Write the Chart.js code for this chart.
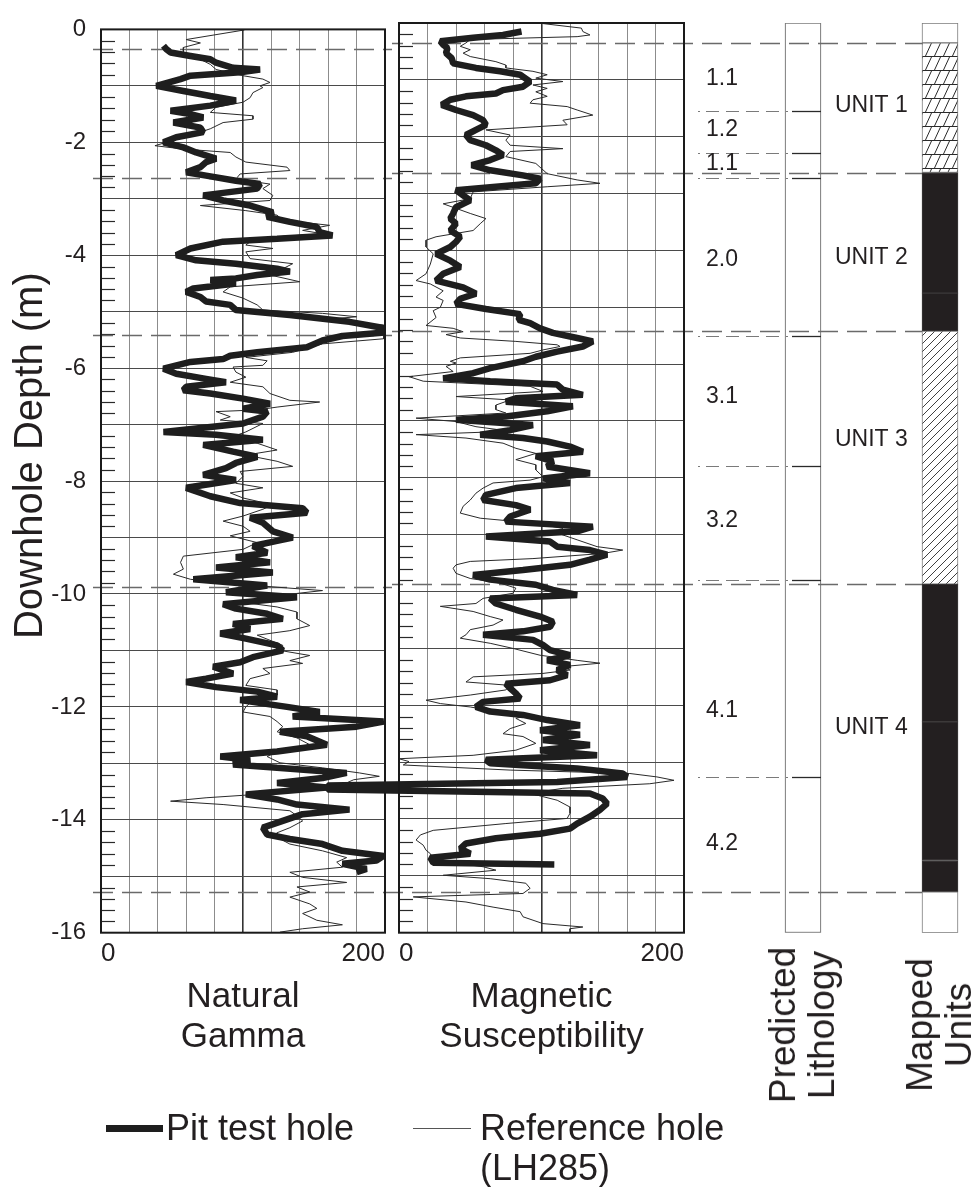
<!DOCTYPE html>
<html>
<head>
<meta charset="utf-8">
<script src="https://cdn.jsdelivr.net/npm/chart.js@4.4.0/dist/chart.umd.min.js"></script>
<style>
html, body { margin: 0; padding: 0; background: #fff; overflow: hidden; }
#wrap { position: relative; width: 973px; height: 1187px; font-family: "Liberation Sans", Arial, sans-serif; color: #231f20; }
#wrap canvas { position: absolute; top: 0; }
.txt { position: absolute; font-size: 36px; line-height: 40px; white-space: nowrap; }
.rot { position: absolute; font-size: 37px; line-height: 39px; white-space: nowrap; text-align: center;
       transform: translate(-50%, -50%) rotate(-90deg); }
.sw { position: absolute; }
</style>
</head>
<body>
<div id="wrap">
  <canvas id="cGamma" width="405" height="1187" style="left:0"></canvas>
  <canvas id="cMag" width="405" height="1187" style="left:300px"></canvas>
  <canvas id="cUnits" width="283" height="1187" style="left:690px"></canvas>

  <div class="rot" style="left:802px; top:1025px">Predicted<br>Lithology</div>
  <div class="rot" style="left:939px; top:1025px">Mapped<br>Units</div>

  <div class="sw" style="left:106px; top:1125px; width:57px; height:7px; background:#1e1e1e"></div>
  <div class="txt" style="left:166px; top:1108px">Pit test hole</div>
  <div class="sw" style="left:413px; top:1128px; width:58px; height:1px; background:#555"></div>
  <div class="txt" style="left:480px; top:1108px">Reference hole<br>(LH285)</div>
</div>

<script>
(function () {
'use strict';

// ---- data: [depth (m), value] ----
const gammaPit = [
  [-0.29,44],[-0.35,46],[-0.41,49],[-0.47,63],[-0.53,77],[-0.59,81],[-0.68,93],[-0.71,112],[-0.76,98],[-0.82,63],
  [-0.88,56],[-1.0,39],[-1.09,58],[-1.18,77],[-1.26,95],[-1.35,77],[-1.44,49],[-1.5,63],[-1.56,72],[-1.65,51],
  [-1.74,70],[-1.82,72],[-1.91,53],[-2.0,44],[-2.09,58],[-2.18,67],[-2.29,81],[-2.35,74],[-2.44,70],[-2.53,60],
  [-2.59,74],[-2.68,95],[-2.74,112],[-2.82,110],[-2.94,72],[-3.03,86],[-3.12,105],[-3.24,121],[-3.32,117],[-3.41,133],
  [-3.5,152],[-3.59,154],[-3.65,163],[-3.71,124],[-3.76,86],[-3.88,63],[-4.0,53],[-4.09,67],[-4.15,95],[-4.24,124],
  [-4.29,133],[-4.35,110],[-4.41,95],[-4.44,77],[-4.5,95],[-4.59,65],[-4.65,60],[-4.74,70],[-4.82,74],[-4.88,91],
  [-4.97,95],[-5.06,133],[-5.18,175],[-5.29,199],[-5.37,200],[-5.43,170],[-5.51,156],[-5.63,145],[-5.72,110],[-5.78,91],
  [-5.84,86],[-5.89,63],[-6.01,44],[-6.1,53],[-6.19,74],[-6.25,88],[-6.33,60],[-6.39,58],[-6.45,77],[-6.54,100],
  [-6.63,119],[-6.72,100],[-6.77,117],[-6.86,114],[-6.98,100],[-7.13,44],[-7.18,81],[-7.27,114],[-7.36,72],[-7.48,93],
  [-7.57,110],[-7.68,95],[-7.77,88],[-7.89,72],[-7.98,95],[-8.12,60],[-8.27,77],[-8.39,98],[-8.48,142],[-8.56,145],
  [-8.65,105],[-8.74,114],[-8.89,121],[-9.0,135],[-9.06,124],[-9.15,107],[-9.27,117],[-9.35,95],[-9.44,119],[-9.53,81],
  [-9.62,121],[-9.74,65],[-9.85,117],[-9.97,88],[-10.06,138],[-10.18,86],[-10.26,95],[-10.35,117],[-10.44,128],[-10.53,93],
  [-10.62,105],[-10.7,84],[-10.79,102],[-10.91,124],[-11.0,128],[-11.12,107],[-11.21,98],[-11.29,79],[-11.41,93],[-11.5,74],
  [-11.56,60],[-11.65,81],[-11.73,110],[-11.82,124],[-11.88,98],[-12.0,131],[-12.09,154],[-12.17,135],[-12.26,199],[-12.35,180],
  [-12.44,126],[-12.52,145],[-12.67,159],[-12.79,124],[-12.88,84],[-12.94,105],[-13.02,93],[-13.08,124],[-13.17,173],[-13.26,156],
  [-13.35,124],[-13.43,159],[-13.55,102],[-13.64,124],[-13.73,138],[-13.82,175],[-13.9,142],[-14.02,128],[-14.14,114],[-14.26,117],
  [-14.34,133],[-14.43,156],[-14.55,170],[-14.64,199],[-14.72,194],[-14.78,170],[-14.87,187],[-14.93,180]
];

const gammaRef = [
  [-0.01,101],[-0.18,60],[-0.24,70],[-0.32,58],[-0.47,58],[-0.53,70],[-0.62,77],[-0.71,81],[-0.82,100],[-0.88,114],
  [-0.94,119],[-1.0,112],[-1.03,114],[-1.12,107],[-1.21,105],[-1.29,100],[-1.38,81],[-1.47,77],[-1.53,107],[-1.59,107],
  [-1.65,86],[-1.76,77],[-1.88,63],[-2.0,46],[-2.06,38],[-2.12,58],[-2.18,91],[-2.26,95],[-2.35,102],[-2.44,131],
  [-2.5,133],[-2.56,98],[-2.65,95],[-2.74,119],[-2.82,114],[-2.94,121],[-3.03,119],[-3.12,70],[-3.21,102],[-3.29,124],
  [-3.38,128],[-3.47,161],[-3.56,142],[-3.62,156],[-3.68,119],[-3.76,105],[-3.82,102],[-3.88,121],[-3.94,102],[-4.06,105],
  [-4.15,135],[-4.24,128],[-4.35,119],[-4.47,140],[-4.56,91],[-4.65,86],[-4.76,100],[-4.88,110],[-4.97,114],[-5.03,156],
  [-5.09,180],[-5.15,152],[-5.24,199],[-5.48,199],[-5.57,156],[-5.72,135],[-5.81,102],[-5.87,117],[-5.95,114],[-5.98,93],
  [-6.07,95],[-6.16,102],[-6.25,91],[-6.33,114],[-6.45,119],[-6.57,133],[-6.6,154],[-6.69,124],[-6.74,110],[-6.77,81],
  [-6.86,91],[-6.92,84],[-6.98,114],[-7.13,102],[-7.21,93],[-7.33,110],[-7.45,124],[-7.54,102],[-7.65,124],[-7.74,135],
  [-7.83,98],[-7.92,100],[-8.04,95],[-8.12,114],[-8.21,91],[-8.3,100],[-8.42,121],[-8.5,114],[-8.62,100],[-8.71,86],
  [-8.8,100],[-8.89,105],[-8.97,91],[-9.09,110],[-9.21,100],[-9.33,58],[-9.44,56],[-9.56,58],[-9.65,51],[-9.74,63],
  [-9.79,81],[-9.88,124],[-9.94,156],[-10.03,124],[-10.15,100],[-10.23,124],[-10.32,138],[-10.44,138],[-10.56,147],[-10.65,133],
  [-10.73,110],[-10.82,119],[-10.91,128],[-11.0,126],[-11.09,147],[-11.18,133],[-11.23,142],[-11.32,114],[-11.41,119],[-11.5,105],
  [-11.62,102],[-11.7,124],[-11.79,124],[-11.88,107],[-12.0,102],[-12.09,100],[-12.17,119],[-12.26,124],[-12.35,128],[-12.44,124],
  [-12.55,138],[-12.67,147],[-12.79,124],[-12.88,117],[-12.99,126],[-13.08,156],[-13.17,182],[-13.23,196],[-13.29,178],[-13.38,170],
  [-13.46,145],[-13.55,110],[-13.61,74],[-13.67,49],[-13.73,86],[-13.84,133],[-13.93,138],[-14.02,142],[-14.14,133],[-14.23,124],
  [-14.31,124],[-14.43,133],[-14.55,156],[-14.67,173],[-14.75,166],[-14.84,170],[-14.93,133],[-15.02,142],[-15.11,173],[-15.19,138],
  [-15.28,147],[-15.37,133],[-15.49,147],[-15.57,152],[-15.66,142],[-15.78,152],[-15.86,170],[-15.93,142],[-15.99,126]
];

const magPit = [
  [-0.15,86],[-0.21,73],[-0.26,52],[-0.32,29],[-0.38,31],[-0.44,34],[-0.53,33],[-0.62,37],[-0.71,38],[-0.79,54],
  [-0.85,71],[-0.91,85],[-1.03,92],[-1.12,87],[-1.18,73],[-1.24,68],[-1.29,47],[-1.35,36],[-1.44,30],[-1.53,40],
  [-1.62,52],[-1.71,59],[-1.79,61],[-1.88,54],[-1.97,47],[-2.06,50],[-2.15,61],[-2.24,68],[-2.32,73],[-2.41,64],
  [-2.5,51],[-2.59,64],[-2.68,87],[-2.74,99],[-2.82,96],[-2.94,40],[-3.03,45],[-3.12,50],[-3.24,40],[-3.35,38],
  [-3.44,36],[-3.53,40],[-3.65,36],[-3.76,43],[-3.85,40],[-3.94,36],[-4.06,26],[-4.18,36],[-4.29,43],[-4.41,31],
  [-4.53,26],[-4.65,45],[-4.76,54],[-4.85,43],[-4.94,40],[-5.03,61],[-5.12,85],[-5.22,84],[-5.28,92],[-5.37,99],
  [-5.45,108],[-5.54,125],[-5.6,136],[-5.69,129],[-5.78,111],[-5.87,96],[-5.95,87],[-6.07,64],[-6.16,52],[-6.25,31],
  [-6.3,64],[-6.36,111],[-6.45,115],[-6.54,129],[-6.6,82],[-6.66,75],[-6.74,122],[-6.83,104],[-6.92,75],[-6.98,40],
  [-7.07,94],[-7.16,78],[-7.24,57],[-7.3,87],[-7.36,104],[-7.45,120],[-7.54,129],[-7.62,96],[-7.71,108],[-7.8,104],
  [-7.92,134],[-8.01,101],[-8.09,120],[-8.18,82],[-8.3,61],[-8.39,59],[-8.48,82],[-8.56,92],[-8.68,78],[-8.77,75],
  [-8.86,136],[-8.94,125],[-9.03,61],[-9.12,106],[-9.21,111],[-9.27,134],[-9.35,146],[-9.44,134],[-9.53,120],[-9.62,87],
  [-9.71,52],[-9.79,64],[-9.88,96],[-9.97,108],[-10.06,125],[-10.12,64],[-10.21,68],[-10.32,82],[-10.44,99],[-10.53,108],
  [-10.62,106],[-10.7,87],[-10.76,59],[-10.85,94],[-10.94,101],[-11.03,106],[-11.12,120],[-11.21,104],[-11.29,120],[-11.38,111],
  [-11.47,118],[-11.56,106],[-11.62,75],[-11.7,78],[-11.79,82],[-11.88,85],[-11.94,59],[-12.03,54],[-12.11,64],[-12.17,87],
  [-12.26,104],[-12.35,127],[-12.44,99],[-12.52,127],[-12.61,101],[-12.7,134],[-12.79,99],[-12.88,139],[-12.96,61],[-13.02,64],
  [-13.11,125],[-13.2,157],[-13.26,160],[-13.35,111],[-13.41,-50],[-13.48,-50],[-13.55,134],[-13.64,143],[-13.73,146],[-13.84,141],
  [-13.96,134],[-14.08,125],[-14.17,120],[-14.26,99],[-14.34,68],[-14.43,47],[-14.52,43],[-14.61,50],[-14.68,22],[-14.77,24],
  [-14.8,109]
];

const magRef = [
  [-0.01,101],[-0.09,128],[-0.15,129],[-0.21,134],[-0.24,125],[-0.29,50],[-0.35,47],[-0.41,43],[-0.47,50],[-0.53,45],
  [-0.59,50],[-0.68,68],[-0.74,75],[-0.79,75],[-0.85,94],[-0.91,104],[-0.97,96],[-1.03,115],[-1.09,94],[-1.15,104],
  [-1.21,96],[-1.29,104],[-1.35,94],[-1.41,92],[-1.47,118],[-1.53,125],[-1.62,136],[-1.71,115],[-1.79,118],[-1.88,61],
  [-1.97,78],[-2.06,75],[-2.15,78],[-2.21,115],[-2.26,78],[-2.35,75],[-2.47,96],[-2.65,104],[-2.76,125],[-2.82,141],
  [-2.88,104],[-2.97,52],[-3.09,50],[-3.18,31],[-3.26,40],[-3.35,50],[-3.44,61],[-3.53,57],[-3.65,52],[-3.76,26],
  [-3.82,19],[-3.94,19],[-4.06,24],[-4.24,22],[-4.41,19],[-4.53,12],[-4.59,22],[-4.71,31],[-4.82,26],[-4.88,31],
  [-5.0,29],[-5.06,24],[-5.18,26],[-5.32,19],[-5.37,38],[-5.43,45],[-5.48,33],[-5.54,43],[-5.6,82],[-5.66,111],
  [-5.69,113],[-5.75,101],[-5.81,92],[-5.89,43],[-5.95,36],[-5.98,40],[-6.04,33],[-6.13,38],[-6.22,7],[-6.3,17],
  [-6.39,92],[-6.48,101],[-6.57,40],[-6.63,78],[-6.72,68],[-6.8,68],[-6.86,75],[-6.95,12],[-7.01,40],[-7.1,54],
  [-7.18,78],[-7.24,12],[-7.3,47],[-7.39,73],[-7.48,82],[-7.57,96],[-7.68,82],[-7.77,96],[-7.86,96],[-7.98,101],
  [-8.04,92],[-8.09,66],[-8.18,59],[-8.27,54],[-8.39,50],[-8.5,45],[-8.62,43],[-8.71,57],[-8.8,96],[-8.89,115],
  [-8.97,111],[-9.09,125],[-9.21,139],[-9.27,157],[-9.33,143],[-9.42,94],[-9.47,50],[-9.53,40],[-9.59,38],[-9.68,40],
  [-9.77,50],[-9.85,71],[-9.94,82],[-10.03,80],[-10.12,59],[-10.21,54],[-10.26,29],[-10.35,52],[-10.44,64],[-10.5,73],
  [-10.59,66],[-10.67,50],[-10.76,47],[-10.82,43],[-10.91,64],[-11.0,80],[-11.12,99],[-11.21,125],[-11.26,141],[-11.32,115],
  [-11.38,120],[-11.44,101],[-11.5,52],[-11.59,47],[-11.65,78],[-11.73,75],[-11.82,50],[-11.91,19],[-11.97,29],[-12.03,50],
  [-12.11,68],[-12.17,92],[-12.23,82],[-12.32,89],[-12.41,78],[-12.5,73],[-12.55,87],[-12.67,96],[-12.79,82],[-12.88,52],
  [-12.94,0],[-12.99,7],[-13.05,3],[-13.14,78],[-13.2,162],[-13.26,181],[-13.32,193],[-13.38,176],[-13.46,115],[-13.55,92],
  [-13.67,111],[-13.79,120],[-13.9,120],[-13.99,118],[-14.08,75],[-14.2,24],[-14.28,15],[-14.37,12],[-14.46,17],[-14.55,19],
  [-14.61,22],[-14.72,24],[-14.84,59],[-14.9,68],[-14.99,31],[-15.05,64],[-15.13,89],[-15.22,92],[-15.31,87],[-15.37,10],
  [-15.46,47],[-15.55,66],[-15.63,85],[-15.72,87],[-15.84,101],[-15.9,129],[-15.93,120],[-15.99,120]
];

// contacts and units
const unitContacts = [-0.35, -2.63, -5.42, -9.87, -15.28];
const subContacts = [-1.55, -2.28, -2.73, -5.51, -7.8, -9.79, -13.27];
const subLabels = ['1.1', '1.2', '1.1', '2.0', '3.1', '3.2', '4.1', '4.2'];
const subLabelDepths = [-0.98, -1.88, -2.47, -4.17, -6.57, -8.76, -12.1, -14.43];
const unitNames = ['UNIT 1', 'UNIT 2', 'UNIT 3', 'UNIT 4'];
const unitNameDepths = [-1.45, -4.13, -7.33, -12.4];
const blockTop  = [0, -0.35, -2.63, -4.75, -5.42, -9.87, -12.29, -14.73, -15.28];
const blockBase = [-0.35, -2.63, -4.75, -5.42, -9.87, -12.29, -14.73, -15.28, -16];
const blockFill = ['none', 'brick', 'solid', 'solid', 'hatch', 'solid', 'solid', 'solid', 'none'];

const FONT = '"Liberation Sans", Arial, sans-serif';
const INK = '#231f20';
const PLOT_TOP = 23, PLOT_BOTTOM = 932.7, PAGE_H = 1187;
const DASH_START = 93;

const toPts = arr => arr.map(p => ({ x: p[1], y: p[0] }));

function drawContacts(chart, x0Page, x1Page, canvasLeft) {
  const ctx = chart.ctx, ys = chart.scales.y;
  ctx.save();
  ctx.strokeStyle = '#6a6a6a';
  ctx.lineWidth = 1.3;
  ctx.setLineDash([20, 9]);
  ctx.lineDashOffset = x0Page - DASH_START;
  unitContacts.forEach(d => {
    const py = Math.round(ys.getPixelForValue(d)) + 0.5;
    ctx.beginPath();
    ctx.moveTo(x0Page - canvasLeft, py);
    ctx.lineTo(x1Page - canvasLeft, py);
    ctx.stroke();
  });
  ctx.restore();
}

function panelDecor(cfg) {
  return {
    id: 'panelDecor',
    beforeDatasetsDraw(chart) {
      const ctx = chart.ctx, a = chart.chartArea, ys = chart.scales.y;
      // minor depth ticks every 0.2 m on the inside of the left edge
      ctx.save();
      ctx.strokeStyle = '#2a2a2a';
      ctx.lineWidth = 1.2;
      for (let i = 1; i < 80; i++) {
        if (i % 5 === 0) continue;
        const py = Math.round(ys.getPixelForValue(-i / 5)) + 0.5;
        ctx.beginPath(); ctx.moveTo(a.left, py); ctx.lineTo(a.left + 14, py); ctx.stroke();
      }
      ctx.restore();
      drawContacts(chart, cfg.dashFrom, cfg.dashTo, cfg.canvasLeft);
    },
    afterDatasetsDraw(chart) {
      const ctx = chart.ctx, a = chart.chartArea;
      ctx.save();
      ctx.strokeStyle = '#1a1a1a';
      ctx.lineWidth = 2;
      ctx.strokeRect(a.left, a.top, a.right - a.left, a.bottom - a.top);
      ctx.restore();
    },
    afterDraw(chart) {
      if (!cfg.yTitle) return;
      // depth title, rotated, sitting a little above the axis middle as in the figure
      const ctx = chart.ctx, ys = chart.scales.y;
      ctx.save();
      ctx.translate(31, ys.getPixelForValue(-7.55));
      ctx.rotate(-Math.PI / 2);
      ctx.fillStyle = INK;
      ctx.font = '40px ' + FONT;
      ctx.textAlign = 'center';
      ctx.textBaseline = 'middle';
      ctx.fillText(cfg.yTitle, 0, 0);
      ctx.restore();
    }
  };
}

function panel(canvasId, cfg) {
  return new Chart(document.getElementById(canvasId), {
    type: 'scatter',
    data: {
      datasets: [
        { label: 'Pit test hole', data: toPts(cfg.pit), showLine: true, pointRadius: 0,
          borderColor: '#1e1e1e', borderWidth: 6.5, borderJoinStyle: 'bevel', clip: cfg.clip },
        { label: 'Reference hole (LH285)', data: toPts(cfg.ref), showLine: true, pointRadius: 0,
          borderColor: '#2a2a2a', borderWidth: 1, borderJoinStyle: 'miter' }
      ]
    },
    options: {
      responsive: false, animation: false, events: [],
      layout: { padding: { left: cfg.padLeft, right: cfg.padRight, top: PLOT_TOP, bottom: 0 } },
      plugins: { legend: { display: false }, tooltip: { enabled: false } },
      scales: {
        x: {
          type: 'linear', min: 0, max: 200,
          border: { display: false },
          grid: { drawTicks: false,
                  color: c => (c.tick && c.tick.value === 100) ? '#333' : '#8c8c8c',
                  lineWidth: c => (c.tick && c.tick.value === 100) ? 1.6 : 1 },
          ticks: { stepSize: 20, autoSkip: false, maxRotation: 0, align: 'inner', padding: 6, color: INK,
                   font: { family: FONT, size: 26 },
                   callback: v => (v === 0 || v === 200) ? String(v) : '' },
          title: { display: true, text: cfg.title, color: INK,
                   font: { family: FONT, size: 35, lineHeight: 40 / 35 },
                   padding: { top: 0, bottom: 130 } },
          afterFit: s => { s.height = PAGE_H - PLOT_BOTTOM; }
        },
        y: {
          type: 'linear', min: -16, max: 0,
          border: { display: false },
          grid: { drawTicks: false, color: '#4a4a4a', lineWidth: 1 },
          ticks: { display: cfg.showY, stepSize: 1, autoSkip: false, padding: 15, color: INK,
                   font: { family: FONT, size: 24 },
                   callback: v => (v % 2 === 0) ? String(v) : '' },
          afterFit: s => { s.width = cfg.yWidth; }
        }
      }
    },
    plugins: [panelDecor(cfg)]
  });
}

panel('cGamma', { pit: gammaPit, ref: gammaRef, title: ['Natural', 'Gamma'], showY: true, yTitle: 'Downhole Depth (m)',
  yWidth: 101, padLeft: 0, padRight: 20, canvasLeft: 0, dashFrom: DASH_START, dashTo: 392, clip: undefined });
panel('cMag', { pit: magPit, ref: magRef, title: ['Magnetic', 'Susceptibility'], showY: false, yTitle: null,
  yWidth: 0, padLeft: 99, padRight: 21, canvasLeft: 300, dashFrom: 392, dashTo: 690, clip: false });

// ---- fills for the mapped units column ----
function brickPattern() {
  const c = document.createElement('canvas');
  c.width = 9; c.height = 14;
  const g = c.getContext('2d');
  g.fillStyle = '#fff'; g.fillRect(0, 0, 9, 14);
  g.strokeStyle = '#2a2a2a'; g.lineWidth = 1;
  g.beginPath(); g.moveTo(0, 0.5); g.lineTo(9, 0.5); g.stroke();
  g.beginPath(); g.moveTo(1.5, 14); g.lineTo(7.5, 1); g.stroke();
  return g.createPattern(c, 'repeat');
}
function hatchPattern() {
  const c = document.createElement('canvas');
  c.width = 8; c.height = 8;
  const g = c.getContext('2d');
  g.fillStyle = '#fff'; g.fillRect(0, 0, 8, 8);
  g.strokeStyle = '#2a2a2a'; g.lineWidth = 0.9;
  g.beginPath();
  g.moveTo(0, 8); g.lineTo(8, 0);
  g.moveTo(-1, 1); g.lineTo(1, -1);
  g.moveTo(7, 9); g.lineTo(9, 7);
  g.stroke();
  return g.createPattern(c, 'repeat');
}
const fills = { none: '#ffffff', solid: '#231f20', brick: brickPattern(), hatch: hatchPattern() };

const columnDecor = {
  id: 'columnDecor',
  afterDatasetsDraw(chart) {
    const ctx = chart.ctx, ys = chart.scales.y;
    const left = 690;
    drawContacts(chart, 690, 922, left);
    ctx.save();
    // sub-unit contacts
    subContacts.forEach(d => {
      const py = Math.round(ys.getPixelForValue(d)) + 0.5;
      ctx.strokeStyle = '#7a7a7a'; ctx.lineWidth = 1.1;
      ctx.setLineDash([2, 6, 13, 7, 13, 7, 13, 7, 13, 7]);
      ctx.beginPath(); ctx.moveTo(698 - left, py); ctx.lineTo(792 - left, py); ctx.stroke();
      ctx.setLineDash([]);
      ctx.strokeStyle = '#2a2a2a'; ctx.lineWidth = 1.3;
      ctx.beginPath(); ctx.moveTo(792 - left, py); ctx.lineTo(821 - left, py); ctx.stroke();
    });
    ctx.fillStyle = INK;
    ctx.textBaseline = 'middle';
    ctx.textAlign = 'left';
    ctx.font = '23px ' + FONT;
    subLabels.forEach((t, i) => ctx.fillText(t, 706 - left, ys.getPixelForValue(subLabelDepths[i])));
    unitNames.forEach((t, i) => ctx.fillText(t, 835 - left, ys.getPixelForValue(unitNameDepths[i])));
    ctx.restore();
  }
};

new Chart(document.getElementById('cUnits'), {
  type: 'bar',
  data: {
    datasets: [
      { label: 'Predicted Lithology', data: [{ x: 0, y: [-16, 0] }], backgroundColor: '#fff',
        borderColor: '#7a7a7a', borderWidth: 1.2, borderSkipped: false, barThickness: 36, grouped: false },
      { label: 'Mapped Units', data: blockTop.map((t, i) => ({ x: 1, y: [blockBase[i], t] })),
        backgroundColor: blockFill.map(f => fills[f]),
        borderColor: blockFill.map(f => f === 'solid' ? '#3c3a3a' : '#7a7a7a'),
        borderWidth: 1, borderSkipped: false, barThickness: 36, grouped: false }
    ]
  },
  options: {
    responsive: false, animation: false, events: [],
    layout: { padding: { left: 0, right: 0, top: PLOT_TOP, bottom: PAGE_H - PLOT_BOTTOM } },
    plugins: { legend: { display: false }, tooltip: { enabled: false } },
    scales: {
      x: { type: 'linear', min: -0.8248, max: 1.2409, offset: false, display: false },
      y: { type: 'linear', min: -16, max: 0, display: false }
    }
  },
  plugins: [columnDecor]
});
})();
</script>
</body>
</html>
